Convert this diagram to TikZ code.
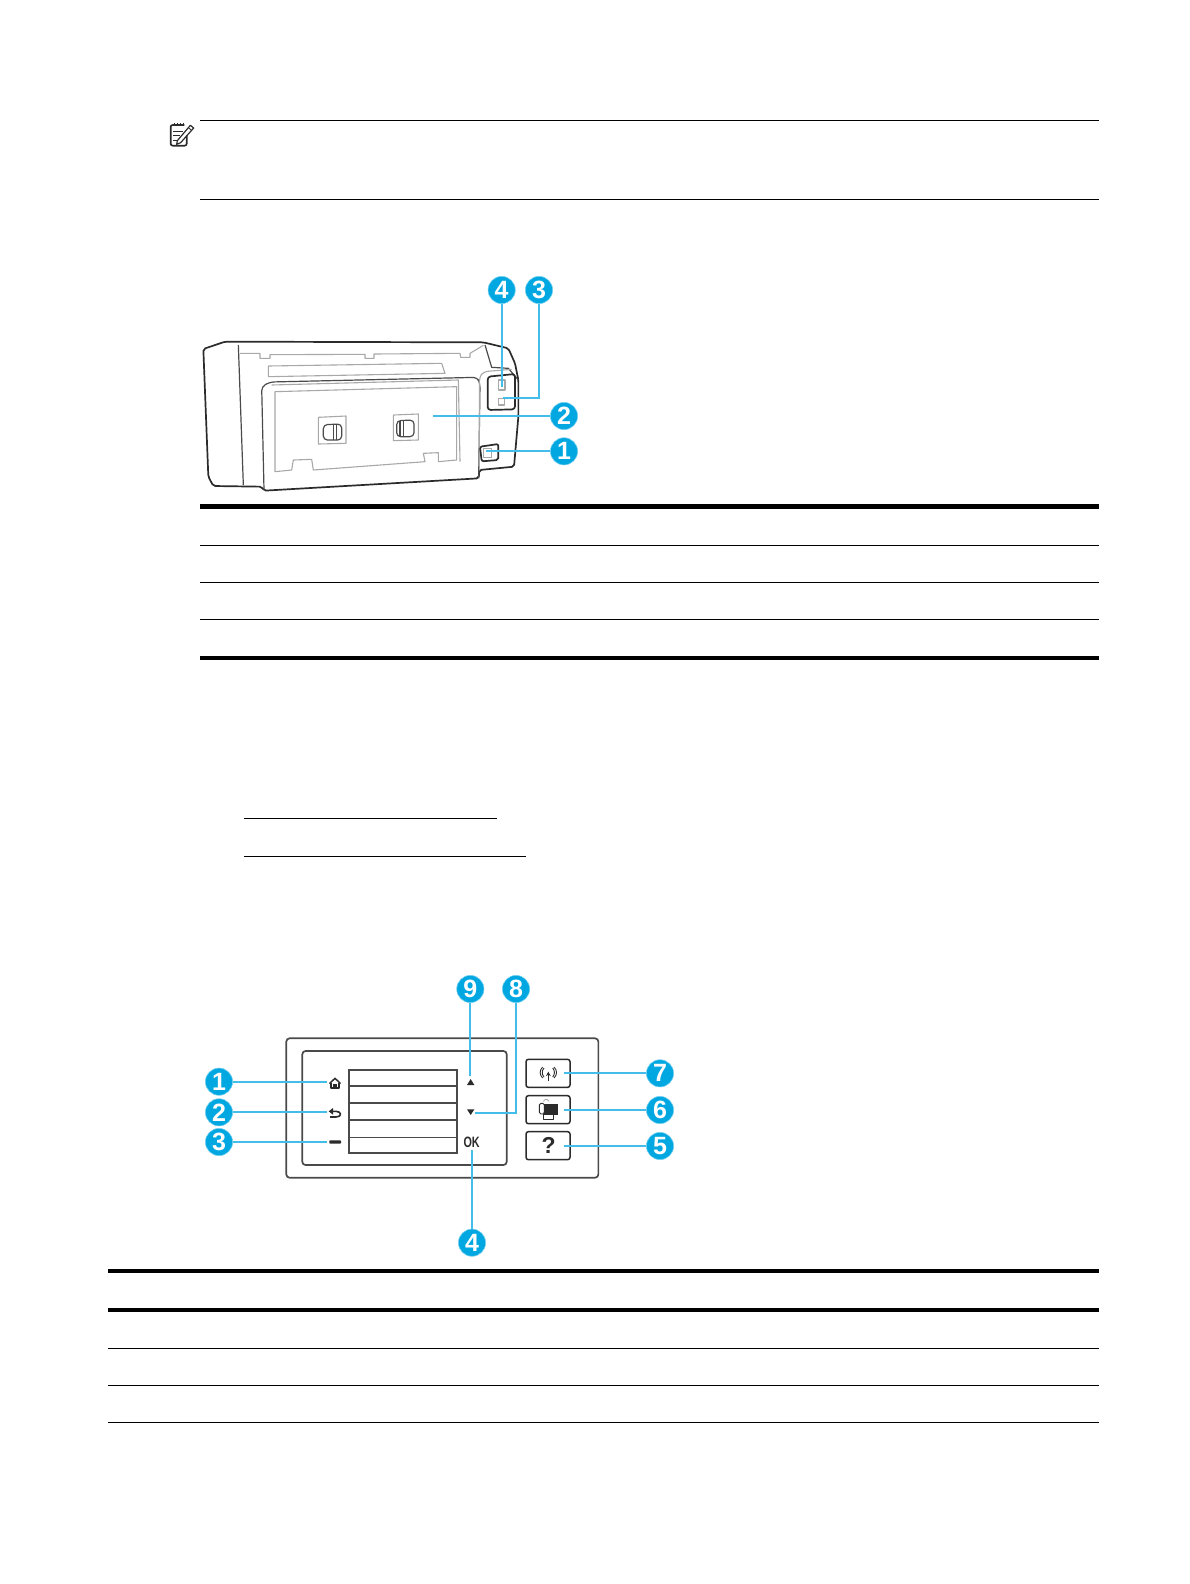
\documentclass[tikz,border=0pt]{standalone}
\usepackage{graphicx}
\usepackage{fontspec}
\setmainfont{Liberation Sans}
\usetikzlibrary{calc,arrows.meta}
\definecolor{calloutblue}{HTML}{00A7E1}
\definecolor{leaderblue}{HTML}{45BDEA}
\definecolor{darkline}{HTML}{2B2B2B}
\definecolor{panelline}{HTML}{4A4A4A}
\definecolor{softline}{HTML}{A8A8A8}
\tikzset{
  thinrule/.style={line width=0.55pt,black},
  thickrule/.style={line width=2pt,black},
  thickerrule/.style={line width=2.4pt,black},
  badge/.style={circle,fill=calloutblue,draw=calloutblue!55,line width=0.3pt,inner sep=0pt,minimum size=13.6pt,text=white,font=\fontsize{12.5}{12.5}\selectfont\bfseries},
  leader/.style={draw=leaderblue,line width=1pt},
  heavy/.style={draw=darkline,line width=0.85pt,line join=round},
  medium/.style={draw=panelline,line width=0.6pt,line join=round},
  soft/.style={draw=softline,line width=0.55pt,line join=round},
  panelbox/.style={draw=panelline,line width=0.85pt,rounded corners=1.6pt},
  keybox/.style={draw=darkline,line width=0.75pt,rounded corners=1.2pt},
  glyph/.style={fill=darkline,draw=none},
  keytext/.style={inner sep=0pt,text=darkline,font=\bfseries},
  zoomed/.style={x=0.16667pt,y=-0.16667pt}
}
\begin{document}
\begin{tikzpicture}[x=0.5pt,y=-0.5pt]
\useasboundingbox (0,0) rectangle (1189,1584);
% note rules
\draw[thinrule] (200,120.5) -- (1099,120.5);
\draw[thinrule] (200,199.5) -- (1099,199.5);
% note icon
\begin{scope}[shift={(150,105)},zoomed]
  \draw[heavy,rounded corners=1pt] (110,92) -- (110,122) -- (62,122) -- (62,60) -- (103,60);
  \foreach \sx in {72,82,92,101} \draw[heavy,line width=0.5pt] (\sx,54) -- (\sx,62);
  \draw[heavy,line width=0.5pt] (70,78) -- (100,78) (70,91) -- (90,91) (70,105) -- (80,105);
  \draw[heavy,line width=0.6pt] (82,107) -- (121,61) -- (131,69) -- (92,113) -- (80,118) -- cycle;
  \draw[heavy,line width=0.4pt] (115,68) -- (125,76);
\end{scope}
% first table rules
\draw[thickerrule] (200,506.3) -- (1099,506.3);
\draw[thinrule] (200,545.3) -- (1099,545.3);
\draw[thinrule] (200,582.3) -- (1099,582.3);
\draw[thinrule] (200,619.3) -- (1099,619.3);
\draw[thickerrule] (200,658) -- (1099,658);
% link underlines
\draw[thinrule] (244,818.3) -- (497,818.3);
\draw[thinrule] (244,856.3) -- (526,856.3);
% second table rules
\draw[thickrule] (108,1271) -- (1099,1271);
\draw[thickrule] (108,1310.3) -- (1099,1310.3);
\draw[thinrule] (108,1348.3) -- (1099,1348.3);
\draw[thinrule] (108,1385.3) -- (1099,1385.3);
\draw[thinrule] (108,1422.3) -- (1099,1422.3);
% printer
\begin{scope}[shift={(190,270)},zoomed]
  \draw[heavy,rounded corners=1pt] (40,237) -- (105,215) -- (880,217) -- (955,235) -- (975,280) -- (985,330) -- (985,440) -- (972,590) -- (868,600) -- (866,625) -- (222,662) -- (215,650) -- (70,648) -- (55,620) -- cycle;
  \draw[medium] (145,225) -- (160,645);
  \draw[soft] (150,250) -- (210,250) -- (210,265) -- (240,265) -- (240,254) -- (525,253) -- (525,265) -- (552,265) -- (552,252) -- (810,250) -- (812,262) -- (840,262) -- (840,250) -- (880,226);
  \draw[soft] (235,288) -- (755,280) -- (765,310) -- (235,320) -- cycle;
  \draw[medium,rounded corners=2pt] (222,660) -- (215,350) -- (240,336) -- (862,322) -- (870,340) -- (866,625);
  \draw[soft] (245,345) -- (805,330) -- (810,575);
  \draw[soft] (255,365) -- (800,350) -- (800,570) -- (745,575) -- (745,548) -- (700,550) -- (705,575) -- (370,600) -- (365,568) -- (310,570) -- (305,600) -- (255,605) -- cycle;
  \draw[soft] (385,442) -- (468,438) -- (468,520) -- (385,522) -- cycle;
  \draw[medium,rounded corners=2pt] (400,464) -- (455,462) -- (455,510) -- (400,510) -- cycle;
  \draw[medium] (430,464) -- (430,510) (440,463) -- (440,510);
  \draw[soft] (610,435) -- (685,432) -- (685,510) -- (610,512) -- cycle;
  \draw[medium,rounded corners=2pt] (620,452) -- (672,450) -- (672,500) -- (620,500) -- cycle;
  \draw[medium] (630,452) -- (630,500) (640,451) -- (640,500);
  \draw[medium] (885,225) -- (905,292) -- (955,295) -- (985,330);
  \draw[soft,rounded corners=2pt] (868,600) -- (868,322) -- (880,305) -- (965,298);
  \draw[heavy,rounded corners=1.5pt] (893,320) -- (975,312) -- (975,418) -- (893,420) -- cycle;
  \draw[soft] (925,330) rectangle (945,360);
  \draw[soft] (925,385) rectangle (943,405);
  \draw[heavy,rounded corners=1pt] (870,530) -- (925,522) -- (925,570) -- (875,574) -- cycle;
  \draw[soft] (880,535) rectangle (905,562);
  \node[badge] (rearone) at (1122,544) {1};
  \node[badge] (reartwo) at (1122,438) {2};
  \node[badge] (rearthree) at (1047,60) {3};
  \node[badge] (rearfour) at (935,60) {4};
  \coordinate (endone) at (888,544);
  \coordinate (endtwo) at (730,438);
  \coordinate (endthree) at (938,383);
  \coordinate (endfour) at (935,350);
  \draw[leader] (rearone) -- (endone);
  \draw[leader] (reartwo) -- (endtwo);
  \draw[leader] (rearthree) |- (endthree);
  \draw[leader] (rearfour) -- (endfour);
\end{scope}
% control panel
\begin{scope}[shift={(190,970)},zoomed]
  \draw[panelbox] (289,205) rectangle (1225,623);
  \draw[panelbox] (337,243) rectangle (950,585);
  \draw[draw=panelline,line width=0.85pt] (477,299) rectangle (800,548);
  \foreach \ly in {348,399,450,502} \draw[draw=panelline,line width=0.85pt] (477,\ly) -- (800,\ly);
  \node[keybox,minimum width=22pt,minimum height=14pt,inner sep=0pt] (keywifi) at (1074,310) {};
  \node[keybox,minimum width=22pt,minimum height=14pt,inner sep=0pt] (keycopy) at (1074,419) {};
  \node[keybox,minimum width=22pt,minimum height=14pt,inner sep=0pt] (keyhelp) at (1074,527) {};
  % home
  \fill[darkline] (417,339) -- (435,322) -- (453,339) -- (450,342) -- (435,328) -- (420,342) -- cycle;
  \draw[heavy,line width=0.6pt] (423,338) -- (423,354) -- (447,354) -- (447,338);
  \fill[darkline] (430,342) rectangle (440,354);
  % back
  \draw[heavy,line width=0.8pt] (426,424) -- (438,424) .. controls (456,424) and (456,441) .. (438,441) -- (420,441);
  \fill[darkline] (416,424) -- (429,414) -- (429,434) -- cycle;
  % minus
  \fill[darkline,rounded corners=0.4pt] (418,511) rectangle (453,521);
  % arrows
  \fill[darkline] (842,327) -- (853,345) -- (831,345) -- cycle;
  \fill[darkline] (842,435) -- (853,418) -- (831,418) -- cycle;
  \node[keytext,font=\fontsize{7.5}{7.5}\selectfont\bfseries] (oktext) at (845,516) {\scalebox{0.72}[1]{OK}};
  \node[keytext,font=\fontsize{11.5}{11.5}\selectfont\bfseries] (helptext) at (1076,527) {?};
  % wireless
  \draw[heavy,line width=0.55pt,-{Stealth[length=2.2pt,width=2.4pt]}] (1075,332) -- (1075,305);
  \draw[heavy,line width=0.45pt] (1058,291) .. controls (1048,300) and (1048,315) .. (1058,324);
  \draw[heavy,line width=0.45pt] (1062,294) .. controls (1055,302) and (1055,313) .. (1062,321);
  \draw[heavy,line width=0.45pt] (1092,291) .. controls (1102,300) and (1102,315) .. (1092,324);
  \draw[heavy,line width=0.45pt] (1088,294) .. controls (1095,302) and (1095,313) .. (1088,321);
  % wireless direct / printer
  \fill[darkline] (1062,402) rectangle (1105,435);
  \draw[heavy,line width=0.45pt,fill=white,rounded corners=0.8pt] (1048,400) rectangle (1063,432);
  \draw[heavy,line width=0.45pt,fill=white] (1060,434) rectangle (1090,449);
  \draw[soft,line width=0.4pt] (1060,394) .. controls (1065,386) and (1072,386) .. (1077,394);
  % connectors
  \node[badge] (panelone) at (87,335) {1};
  \node[badge] (paneltwo) at (87,427) {2};
  \node[badge] (panelthree) at (87,516) {3};
  \node[badge] (panelfour) at (846,818) {4};
  \node[badge] (panelfive) at (1410,528) {5};
  \node[badge] (panelsix) at (1410,420) {6};
  \node[badge] (panelseven) at (1410,310) {7};
  \node[badge] (paneleight) at (978,57) {8};
  \node[badge] (panelnine) at (841,57) {9};
  \coordinate (tipone) at (412,335);
  \coordinate (tiptwo) at (412,427);
  \coordinate (tipthree) at (412,516);
  \coordinate (tipfour) at (846,541);
  \coordinate (tipfive) at (1122,528);
  \coordinate (tipsix) at (1122,420);
  \coordinate (tipseven) at (1122,310);
  \coordinate (tipeight) at (855,428);
  \coordinate (tipnine) at (841,318);
  \draw[leader] (panelone) -- (tipone);
  \draw[leader] (paneltwo) -- (tiptwo);
  \draw[leader] (panelthree) -- (tipthree);
  \draw[leader] (panelfour) -- (tipfour);
  \draw[leader] (panelfive) -- (tipfive);
  \draw[leader] (panelsix) -- (tipsix);
  \draw[leader] (panelseven) -- (tipseven);
  \draw[leader] (paneleight) |- (tipeight);
  \draw[leader] (panelnine) -- (tipnine);
\end{scope}
\end{tikzpicture}
\end{document}
